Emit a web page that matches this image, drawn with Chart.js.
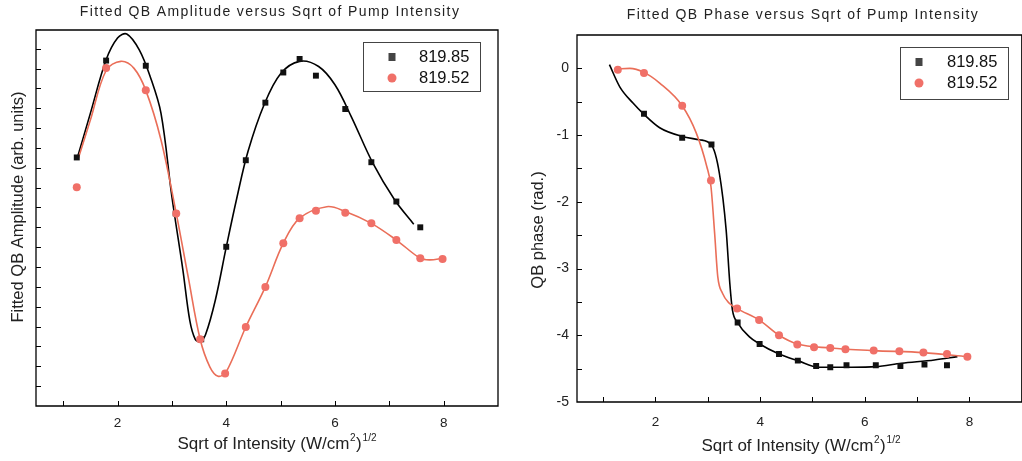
<!DOCTYPE html>
<html>
<head>
<meta charset="utf-8">
<script src="https://cdn.jsdelivr.net/npm/chart.js@4.4.1/dist/chart.umd.min.js"></script>
<style>
  html, body { margin: 0; padding: 0; background: #fff; overflow: hidden; }
  body { width: 1022px; height: 461px; position: relative; }
  .box { position: absolute; top: 0; height: 461px; }
  #ampBox { left: 0; width: 510px; }
  #phaseBox { left: 520px; width: 506px; }
</style>
</head>
<body>
<div class="box" id="ampBox"><canvas id="ampChart"></canvas></div>
<div class="box" id="phaseBox"><canvas id="phaseChart"></canvas></div>
<script>
// --- amplitude panel: measured points ---
const ampBlackX = [1.25, 1.79, 2.52, 3.07, 3.54, 4.0, 4.36, 4.72, 5.05, 5.35, 5.65, 6.19, 6.67, 7.13, 7.57];
const ampBlackY = [6.26, 8.70, 8.57, 4.85, 1.68, 4.01, 6.19, 7.64, 8.40, 8.74, 8.32, 7.48, 6.14, 5.15, 4.50];
const ampRedX = [1.25, 1.79, 2.52, 3.08, 3.52, 3.98, 4.36, 4.72, 5.05, 5.35, 5.65, 6.19, 6.67, 7.13, 7.57, 7.98];
const ampRedY = [5.51, 8.51, 7.95, 4.85, 1.68, 0.82, 1.99, 3.00, 4.10, 4.73, 4.92, 4.87, 4.60, 4.18, 3.72, 3.70];
// --- amplitude panel: fit curves ---
const ampBlackFitX = [1.25, 1.5, 1.79, 2.0, 2.17, 2.4, 2.6, 2.8, 3.0, 3.2, 3.33, 3.43, 3.52, 3.62, 3.8, 4.0, 4.2, 4.4, 4.7, 5.0, 5.35, 5.7, 6.0, 6.3, 6.7, 7.1, 7.45];
const ampBlackFitY = [6.20, 7.37, 8.72, 9.27, 9.37, 8.97, 8.30, 7.37, 5.27, 3.45, 2.15, 1.68, 1.62, 1.80, 2.67, 4.00, 5.27, 6.41, 7.60, 8.37, 8.68, 8.55, 8.09, 7.29, 6.11, 5.19, 4.58];
const ampRedFitX = [1.27, 1.5, 1.79, 2.06, 2.3, 2.52, 2.8, 3.08, 3.3, 3.52, 3.7, 3.85, 4.0, 4.36, 4.72, 5.05, 5.35, 5.85, 6.19, 6.67, 7.13, 7.57, 7.75, 7.98];
const ampRedFitY = [6.20, 7.20, 8.45, 8.68, 8.51, 7.95, 6.70, 4.85, 3.25, 1.68, 0.98, 0.75, 0.86, 1.99, 3.00, 4.10, 4.73, 5.02, 4.90, 4.60, 4.18, 3.72, 3.68, 3.72];

// --- phase panel: measured points ---
const phaseBlackX = [1.78, 2.51, 3.07, 3.57, 3.99, 4.36, 4.72, 5.07, 5.34, 5.65, 6.21, 6.68, 7.14, 7.57];
const phaseBlackY = [-0.68, -1.04, -1.14, -3.81, -4.13, -4.28, -4.38, -4.46, -4.48, -4.45, -4.45, -4.46, -4.44, -4.45];
const phaseRedX = [1.28, 1.78, 2.51, 3.06, 3.56, 3.98, 4.36, 4.71, 5.03, 5.34, 5.63, 6.17, 6.66, 7.12, 7.57, 7.96];
const phaseRedY = [-0.02, -0.07, -0.56, -1.68, -3.60, -3.77, -4.00, -4.14, -4.18, -4.19, -4.21, -4.23, -4.24, -4.26, -4.28, -4.32];
// --- phase panel: fit curves ---
const phaseBlackFitX = [1.12, 1.32, 1.57, 1.78, 2.08, 2.51, 2.84, 3.07, 3.22, 3.35, 3.42, 3.47, 3.57, 3.79, 3.99, 4.36, 4.72, 5.12, 5.75, 6.21, 6.70, 7.33, 7.77];
const phaseBlackFitY = [0.055, -0.28, -0.52, -0.69, -0.89, -1.02, -1.07, -1.15, -1.57, -2.42, -3.22, -3.62, -3.81, -4.02, -4.13, -4.28, -4.38, -4.48, -4.48, -4.47, -4.42, -4.37, -4.32];
const phaseRedFitX = [1.26, 1.51, 1.78, 2.08, 2.51, 2.78, 2.98, 3.06, 3.13, 3.19, 3.28, 3.41, 3.56, 3.98, 4.36, 4.71, 5.34, 6.17, 7.12, 7.96];
const phaseRedFitY = [-0.01, 0.0, -0.06, -0.22, -0.56, -0.97, -1.47, -1.77, -2.47, -3.12, -3.37, -3.52, -3.60, -3.77, -4.00, -4.13, -4.19, -4.23, -4.26, -4.32];

const seriesNames = ['819.85', '819.52'];
const xTickLabels = [2, 4, 6, 8];
const phaseYTickLabels = [0, -1, -2, -3, -4, -5];

const FONT = "'Liberation Sans', Arial, sans-serif";
const BLACK = '#111111';
const RED_PT = '#f07068';
const RED_LINE = '#ea6e58';

const pts = (xs, ys) => xs.map((x, i) => ({ x, y: ys[i] }));

// frame, inside ticks, titles, legend
function decorPlugin(cfg) {
    return {
        id: 'decor',
        afterDraw(chart) {
            const ctx = chart.ctx;
            const a = chart.chartArea;
            const xs = chart.scales.x, ys = chart.scales.y;
            ctx.save();
            ctx.strokeStyle = '#000';
            ctx.lineWidth = 1.3;
            ctx.beginPath();
            ctx.moveTo(a.left, a.top);
            ctx.lineTo(a.left, a.bottom);
            ctx.lineTo(a.right, a.bottom);
            ctx.lineTo(a.right, a.top);
            ctx.closePath();
            ctx.stroke();

            // inward ticks
            ctx.lineWidth = 1;
            cfg.xTicks.forEach(v => {
                const px = Math.round(xs.getPixelForValue(v)) + 0.5;
                ctx.beginPath();
                ctx.moveTo(px, a.bottom);
                ctx.lineTo(px, a.bottom - 5);
                ctx.stroke();
            });
            cfg.yTicks.forEach(v => {
                const py = Math.round(ys.getPixelForValue(v)) + 0.5;
                ctx.beginPath();
                ctx.moveTo(a.left, py);
                ctx.lineTo(a.left + 5, py);
                ctx.stroke();
            });

            ctx.fillStyle = '#222';
            // chart title
            ctx.font = '14px ' + FONT;
            ctx.letterSpacing = '1.4px';
            ctx.textAlign = 'center';
            ctx.textBaseline = 'middle';
            ctx.fillText(cfg.title, cfg.titleX, cfg.titleY);
            ctx.letterSpacing = '0px';

            // x axis title with superscripts
            const base = 'Sqrt of Intensity (W/cm';
            ctx.font = '17px ' + FONT;
            const wBase = ctx.measureText(base).width;
            const wParen = ctx.measureText(')').width;
            ctx.font = '10px ' + FONT;
            const wSup2 = ctx.measureText('2').width;
            const wSupH = ctx.measureText('1/2').width;
            const total = wBase + wSup2 + wParen + wSupH + 2;
            let x = cfg.xTitleX - total / 2;
            const y = cfg.xTitleY;
            ctx.textAlign = 'left';
            ctx.textBaseline = 'alphabetic';
            ctx.font = '17px ' + FONT;
            ctx.fillText(base, x, y);
            x += wBase + 0.5;
            ctx.font = '10px ' + FONT;
            ctx.fillText('2', x, y - 8);
            x += wSup2 + 0.5;
            ctx.font = '17px ' + FONT;
            ctx.fillText(')', x, y);
            x += wParen + 1;
            ctx.font = '10px ' + FONT;
            ctx.fillText('1/2', x, y - 8);

            // y axis title
            ctx.save();
            ctx.translate(cfg.yTitleX, cfg.yTitleY);
            ctx.rotate(-Math.PI / 2);
            ctx.font = '16.5px ' + FONT;
            ctx.textAlign = 'center';
            ctx.textBaseline = 'middle';
            ctx.fillText(cfg.yTitle, 0, 0);
            ctx.restore();

            // legend box
            const L = cfg.legend;
            ctx.strokeStyle = '#444';
            ctx.lineWidth = 1;
            ctx.strokeRect(L.x + 0.5, L.y + 0.5, L.w, L.h);
            ctx.font = '16.5px ' + FONT;
            ctx.textAlign = 'left';
            ctx.textBaseline = 'middle';
            seriesNames.forEach((name, i) => {
                const cy = L.y + L.row0 + i * L.rowGap;
                if (i === 0) {
                    ctx.fillStyle = '#444';
                    ctx.fillRect(L.markX - 3.5, cy - 4, 7, 8);
                } else {
                    ctx.fillStyle = RED_PT;
                    ctx.beginPath();
                    ctx.arc(L.markX, cy, 4.5, 0, Math.PI * 2);
                    ctx.fill();
                }
                ctx.fillStyle = '#111';
                ctx.fillText(name, L.textX, cy);
            });
            ctx.restore();
        }
    };
}

function makeDatasets(bx, by, rx, ry, bfx, bfy, rfx, rfy, smooth) {
    const curve = smooth === 'monotone'
        ? { cubicInterpolationMode: 'monotone' }
        : { tension: smooth };
    return [
        { data: pts(rx, ry), showLine: false, pointStyle: 'circle', pointRadius: 4,
          backgroundColor: RED_PT, borderColor: RED_PT, borderWidth: 0, order: 0 },
        { data: pts(bx, by), showLine: false, pointStyle: 'rect', pointRadius: 4.2,
          backgroundColor: BLACK, borderColor: BLACK, borderWidth: 0, order: 1 },
        Object.assign({ data: pts(rfx, rfy), pointRadius: 0, borderColor: RED_LINE, borderWidth: 1.6,
          order: 2 }, curve),
        Object.assign({ data: pts(bfx, bfy), pointRadius: 0, borderColor: '#000', borderWidth: 1.6,
          order: 3 }, curve),
    ];
}

function baseOptions(o) {
    return {
        responsive: false,
        animation: false,
        events: [],
        layout: { padding: { top: o.top, right: o.right, left: 0, bottom: 0 } },
        plugins: { legend: { display: false }, tooltip: { enabled: false } },
        scales: {
            x: {
                type: 'linear', min: 0.5, max: 9,
                afterFit: s => { s.height = o.xHeight; },
                afterBuildTicks: s => { s.ticks = xTickLabels.map(v => ({ value: v })); },
                ticks: { color: '#222', padding: o.xPad, font: { family: FONT, size: 13.5 } },
                grid: { display: false, drawTicks: false },
                border: { display: false },
            },
            y: {
                type: 'linear', min: o.yMin, max: o.yMax,
                afterFit: s => { s.width = o.yWidth; },
                afterBuildTicks: s => { s.ticks = o.yLabels.map(v => ({ value: v })); },
                ticks: { display: o.yLabels.length > 0, color: '#222', padding: 8,
                         font: { family: FONT, size: 14 },
                         callback: v => (v < 0 ? '-' + Math.abs(v) : String(v)) },
                grid: { display: false, drawTicks: false },
                border: { display: false },
            },
        },
    };
}

function sizeCanvas(id, w, h) {
    const c = document.getElementById(id);
    c.width = w; c.height = h;
    c.style.width = w + 'px'; c.style.height = h + 'px';
    return c;
}

const ampYTicks = [];
for (let v = 0.5; v <= 9; v += 0.5) ampYTicks.push(v);
const phaseYTicks = [];
for (let v = -4.5; v <= 0; v += 0.5) phaseYTicks.push(v);
const minorX = [1, 2, 3, 4, 5, 6, 7, 8];

new Chart(sizeCanvas('ampChart', 510, 461), {
    type: 'line',
    data: { datasets: makeDatasets(ampBlackX, ampBlackY, ampRedX, ampRedY,
                                   ampBlackFitX, ampBlackFitY, ampRedFitX, ampRedFitY, 0.35) },
    options: baseOptions({ top: 30, right: 12, xHeight: 55, yWidth: 36, xPad: 9,
                           yMin: 0, yMax: 9.47, yLabels: [] }),
    plugins: [decorPlugin({
        title: 'Fitted QB Amplitude versus Sqrt of Pump Intensity', titleX: 270, titleY: 12,
        xTitleX: 277, xTitleY: 449, yTitle: 'Fitted QB Amplitude (arb. units)', yTitleX: 18, yTitleY: 207,
        xTicks: minorX, yTicks: ampYTicks,
        legend: { x: 363, y: 42, w: 117, h: 49, row0: 15, rowGap: 21, markX: 392, textX: 419 },
    })],
});

new Chart(sizeCanvas('phaseChart', 506, 461), {
    type: 'line',
    data: { datasets: makeDatasets(phaseBlackX, phaseBlackY, phaseRedX, phaseRedY,
                                   phaseBlackFitX, phaseBlackFitY, phaseRedFitX, phaseRedFitY, 'monotone') },
    options: baseOptions({ top: 35, right: 1, xHeight: 59, yWidth: 57, xPad: 12,
                           yMin: -5, yMax: 0.5, yLabels: phaseYTickLabels }),
    plugins: [decorPlugin({
        title: 'Fitted QB Phase versus Sqrt of Pump Intensity', titleX: 283, titleY: 15,
        xTitleX: 281, xTitleY: 451, yTitle: 'QB phase (rad.)', yTitleX: 18, yTitleY: 230,
        xTicks: minorX, yTicks: phaseYTicks,
        legend: { x: 380, y: 47, w: 108, h: 52, row0: 15, rowGap: 21, markX: 399, textX: 427 },
    })],
});
</script>
</body>
</html>
